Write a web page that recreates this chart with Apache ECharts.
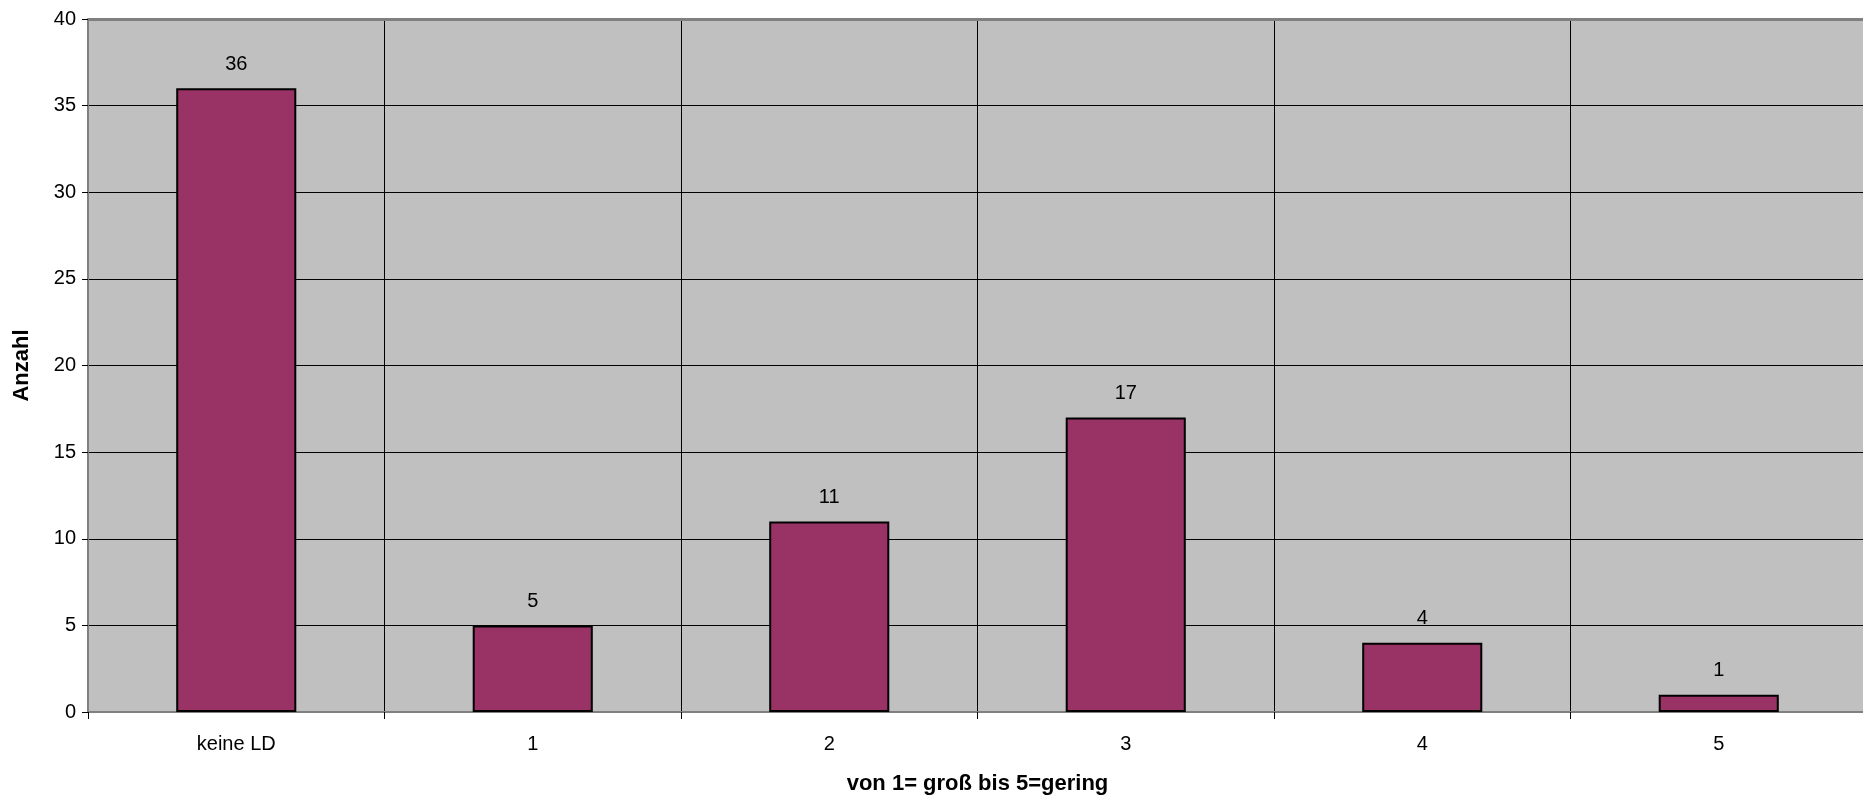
<!DOCTYPE html>
<html><head><meta charset="utf-8">
<script src="https://cdn.jsdelivr.net/npm/echarts@6/dist/echarts.min.js"></script>
<style>html,body{margin:0;padding:0;background:#fff}#c{width:1863px;height:798px}</style>
</head><body><div id="c"></div>
<script>
const categories = ['keine LD', '1', '2', '3', '4', '5'];
const values = [36, 5, 11, 17, 4, 1];
const yTitle = 'Anzahl';
const xTitle = 'von 1= groß bis 5=gering';

const chart = echarts.init(document.getElementById('c'));
const FONT = '"Liberation Sans", Arial, sans-serif';
chart.setOption({
  animation: false,
  backgroundColor: '#ffffff',
  grid: { left: 88, right: -4, top: 19, bottom: 86, show: true, backgroundColor: '#c0c0c0', borderWidth: 0,
          containLabel: false, outerBoundsMode: 'none' },
  xAxis: {
    type: 'category', data: categories,
    name: xTitle, nameLocation: 'middle', nameGap: 61,
    nameTextStyle: { fontFamily: FONT, fontSize: 22, fontWeight: 'bold', color: '#000' },
    axisLine: { lineStyle: { color: '#808080', width: 2 } },
    axisTick: { show: true, length: 7, lineStyle: { color: '#000', width: 1 } },
    axisLabel: { fontFamily: FONT, fontSize: 20, color: '#000', margin: 22 },
    splitLine: { show: true, lineStyle: { color: '#000', width: 1 } }
  },
  yAxis: {
    type: 'value', min: 0, max: 40, interval: 5,
    name: yTitle, nameLocation: 'middle', nameGap: 55, nameRotate: 90,
    nameTextStyle: { fontFamily: FONT, fontSize: 22, fontWeight: 'bold', color: '#000' },
    axisLine: { show: true, lineStyle: { color: '#808080', width: 2 } },
    axisTick: { show: true, length: 6, lineStyle: { color: '#000', width: 1 } },
    axisLabel: { fontFamily: FONT, fontSize: 20, color: '#000', margin: 12 },
    splitLine: { show: true, lineStyle: { color: '#000', width: 1 } }
  },
  series: [{
    type: 'bar', data: values, barWidth: '40.5%',
    itemStyle: { color: '#993366', borderColor: '#000', borderWidth: 2 },
    label: { show: true, position: 'top', distance: 14, fontFamily: FONT, fontSize: 20, color: '#000' }
  }, {
    type: 'line', data: [], markLine: { silent: true, symbol: 'none', label: { show: false },
      lineStyle: { color: '#808080', width: 3, type: 'solid' }, data: [{ yAxis: 40 }] }
  }]
});
</script></body></html>
